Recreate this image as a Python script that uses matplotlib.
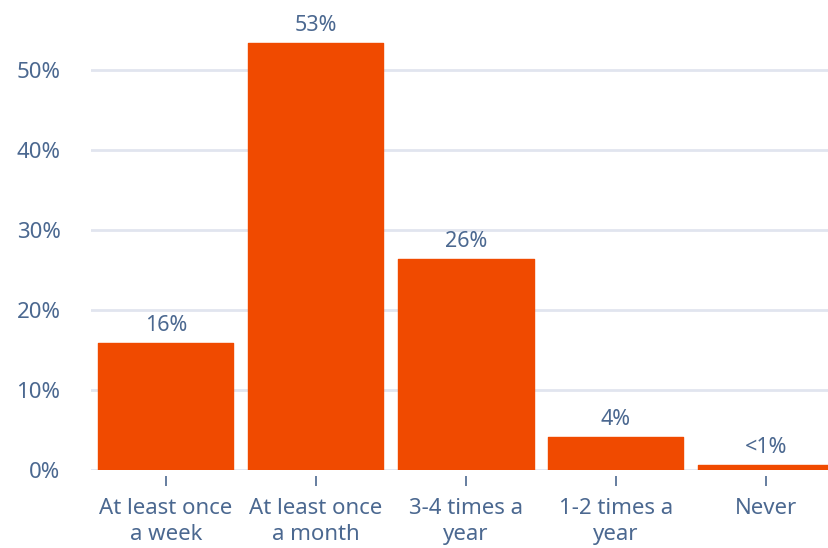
import matplotlib
matplotlib.use("Agg")
import matplotlib.pyplot as plt

categories = ["At least once\na week", "At least once\na month", "3-4 times a\nyear",
              "1-2 times a\nyear", "Never"]
shares = [15.9, 53.4, 26.4, 4.1, 0.6]
yticks = [0, 10, 20, 30, 40, 50]

BAR = "#F04A00"
TEXT = "#4B6890"
GRID = "#E1E5EF"

plt.rcParams["font.family"] = ["Noto Sans", "DejaVu Sans"]

fig = plt.figure(figsize=(8.29, 5.48), dpi=100)
# plot area runs a little past the right edge, so the last bar is cut off
ax = fig.add_axes([91 / 829, 78 / 548, 750 / 829, 470 / 548])

x = list(range(len(categories)))
ax.bar(x, shares, width=0.9, color=BAR, edgecolor=BAR, linewidth=1,
       joinstyle="round", zorder=3)

for xi, v in zip(x, shares):
    label = "<1%" if v < 1 else f"{round(v)}%"
    ax.annotate(label, (xi, v), xytext=(0, 5), textcoords="offset points",
                ha="center", va="bottom", fontsize=15.5, color=TEXT)

ax.set_xlim(-0.5, len(categories) - 0.5)
ax.set_ylim(0, 58.75)
ax.set_yticks(yticks)
ax.set_yticklabels([f"{t}%" for t in yticks])
ax.set_xticks(x)
ax.set_xticklabels(categories, linespacing=1.3)

ax.yaxis.grid(True, color=GRID, linewidth=2, zorder=0)
ax.set_axisbelow(True)
for s in ax.spines.values():
    s.set_visible(False)

ax.tick_params(axis="y", length=0, pad=22, labelsize=16, labelcolor=TEXT)
ax.tick_params(axis="x", length=7, width=1.2, color=TEXT, pad=13,
               labelsize=16, labelcolor=TEXT, direction="out")
for t in ax.get_xticklines():
    t.set_transform(t.get_transform() + matplotlib.transforms.ScaledTranslation(0, -6 / 100, fig.dpi_scale_trans))

fig.savefig("out.png", dpi=100)
